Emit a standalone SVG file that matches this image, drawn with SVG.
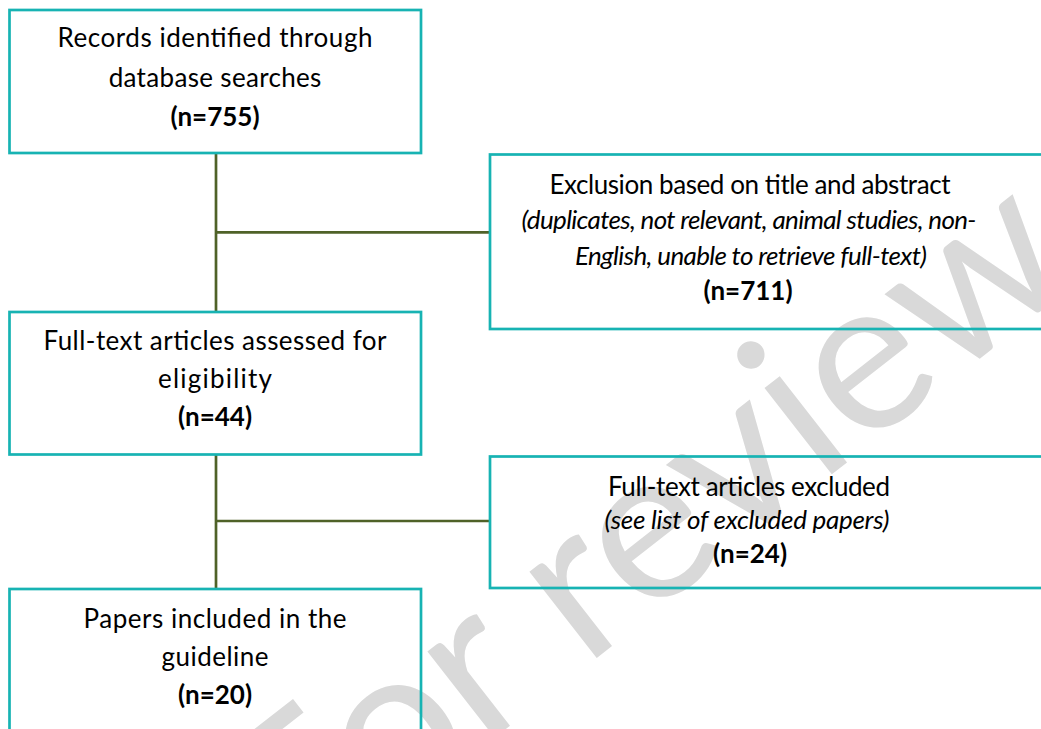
<svg xmlns="http://www.w3.org/2000/svg" width="1041" height="729" viewBox="0 0 1041 729">
  <style>
    .box { fill: none; stroke: #17B3B3; stroke-width: 2.7; }
    .conn { fill: none; stroke: #4F6228; stroke-width: 2.7; }
    .t { font-family: Lato, "Open Sans", "Liberation Sans", sans-serif; font-size: 26px; fill: #000; text-anchor: middle; }
    .i { font-style: italic; }
    .b { font-weight: bold; }
    .wm { font-family: Lato, "Open Sans", "Liberation Sans", sans-serif; font-size: 216px; fill: #D9D9D9; text-anchor: middle; }
  </style>
  <rect width="1041" height="729" fill="#ffffff"/>
  <text class="wm" transform="translate(690,585) rotate(-38)">For review</text>

  <g id="connectors">
    <line class="conn" x1="216" y1="153" x2="216" y2="312"/>
    <line class="conn" x1="216" y1="232.3" x2="490" y2="232.3"/>
    <line class="conn" x1="216" y1="454.5" x2="216" y2="589"/>
    <line class="conn" x1="216" y1="521" x2="490" y2="521"/>
  </g>

  <g id="records">
    <rect class="box" x="9.5" y="10" width="411.5" height="143"/>
    <text class="t" x="215" y="47.3" textLength="315">Records identified through</text>
    <text class="t" x="215" y="86.7" textLength="212.7">database searches</text>
    <text class="t b" x="215" y="126">(n=755)</text>
  </g>

  <g id="exclusion-title-abstract">
    <rect class="box" x="490" y="154.5" width="580" height="174.5"/>
    <text class="t" x="750" y="193.5" textLength="401">Exclusion based on title and abstract</text>
    <text class="t i" x="749" y="229" textLength="455">(duplicates, not relevant, animal studies, non-</text>
    <text class="t i" x="751" y="264.5" textLength="352">English, unable to retrieve full-text)</text>
    <text class="t b" x="748" y="300">(n=711)</text>
  </g>

  <g id="fulltext-assessed">
    <rect class="box" x="9.5" y="312" width="411.5" height="142.5"/>
    <text class="t" x="215" y="350" textLength="343">Full-text articles assessed for</text>
    <text class="t" x="215" y="388" textLength="114">eligibility</text>
    <text class="t b" x="215" y="425.5">(n=44)</text>
  </g>

  <g id="fulltext-excluded">
    <rect class="box" x="490" y="456.5" width="580" height="131.5"/>
    <text class="t" x="749" y="496" textLength="282">Full-text articles excluded</text>
    <text class="t i" x="747" y="529" textLength="285">(see list of excluded papers)</text>
    <text class="t b" x="750" y="562.5">(n=24)</text>
  </g>

  <g id="papers-included">
    <rect class="box" x="9.5" y="589" width="411.5" height="160"/>
    <text class="t" x="215" y="627.5" textLength="263">Papers included in the</text>
    <text class="t" x="215" y="666" textLength="107">guideline</text>
    <text class="t b" x="215" y="703.5">(n=20)</text>
  </g>
</svg>
